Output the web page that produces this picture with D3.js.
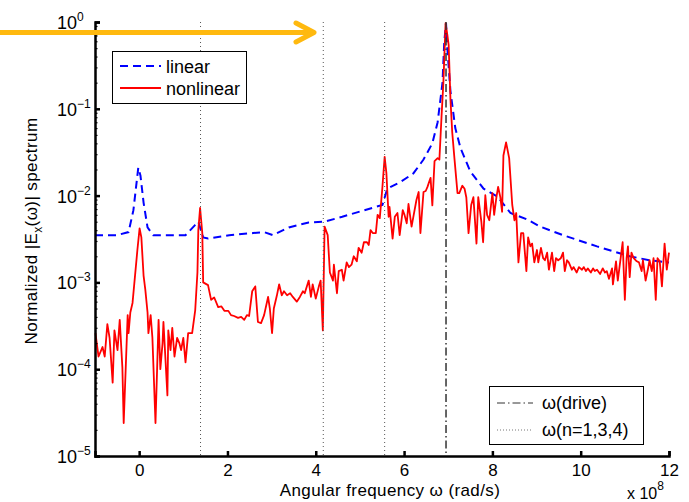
<!DOCTYPE html>
<html>
<head>
<meta charset="utf-8">
<script src="https://cdn.jsdelivr.net/npm/d3@7"></script>
<style>
  body { margin: 0; background: #fff; }
  svg text { font-family: "Liberation Sans", Arial, sans-serif; fill: #000; }
</style>
</head>
<body>
<svg id="chart" width="689" height="502"></svg>
<script>
// angular frequency in units of 1e8 rad/s
const linearW = [-1, -0.5, -0.24, -0.13, -0.02, 0.03, 0.1, 0.19, 0.32, 0.7, 1.05, 1.27, 1.34, 1.45, 1.56, 2.04, 2.58, 2.83, 3.03, 3.39, 3.84, 4.19, 4.6, 5.02, 5.51, 5.62, 5.92, 6.21, 6.44, 6.64, 6.76, 6.87, 6.91, 6.95, 6.98, 7.05, 7.16, 7.28, 7.5, 7.8, 8.11, 8.41, 8.79, 9.08, 9.6, 10.37, 11.11, 11.56, 12];
const linearE = [3.5e-3, 3.5e-3, 3.8e-3, 6.8e-3, 2.1e-2, 1.7e-2, 8.3e-3, 4.3e-3, 3.5e-3, 3.5e-3, 3.5e-3, 4.6e-3, 5.0e-3, 3.3e-3, 3.2e-3, 3.5e-3, 3.7e-3, 3.8e-3, 3.5e-3, 4.3e-3, 4.9e-3, 5.0e-3, 5.7e-3, 6.6e-3, 7.8e-3, 1.2e-2, 1.44e-2, 1.8e-2, 2.6e-2, 4.0e-2, 7.0e-2, 0.2, 0.59, 0.97, 0.5, 0.16, 0.06, 0.035, 0.019, 0.012, 9.8e-3, 6.3e-3, 5.3e-3, 4.4e-3, 3.5e-3, 2.6e-3, 2.0e-3, 1.8e-3, 1.7e-3];

const nonlinW = [-0.99, -0.92, -0.83, -0.78, -0.72, -0.67, -0.60, -0.56, -0.49, -0.44, -0.38, -0.35, -0.26, -0.24, -0.20, -0.15, -0.11, -0.04, 0.01, 0.05, 0.10, 0.14, 0.19, 0.21, 0.26, 0.30, 0.37, 0.44, 0.48, 0.53, 0.55, 0.64, 0.66, 0.71, 0.75, 0.80, 0.86, 0.91, 0.95, 1.00, 1.05, 1.11, 1.20, 1.27, 1.32, 1.34, 1.38, 1.43, 1.45,
  1.56, 1.63, 1.70, 1.79, 1.86, 1.93, 2.02, 2.08, 2.15, 2.24, 2.31, 2.38, 2.44, 2.49, 2.56, 2.63, 2.69, 2.76, 2.83, 2.92, 2.96, 3.01, 3.05, 3.12, 3.17, 3.23, 3.28, 3.35, 3.42, 3.48, 3.57, 3.64, 3.71, 3.75, 3.84, 3.89, 3.93, 4.00, 4.07, 4.11, 4.16, 4.20, 4.27,
  4.32, 4.39, 4.41, 4.48, 4.52, 4.59, 4.63, 4.70, 4.75, 4.81, 4.86, 4.93, 4.97, 5.04, 5.09, 5.16, 5.20, 5.24, 5.29, 5.36, 5.40, 5.45, 5.51, 5.56, 5.60, 5.65, 5.67, 5.74, 5.79, 5.85, 5.90, 5.97, 6.01, 6.06, 6.10, 6.17, 6.21, 6.28, 6.33, 6.37, 6.44, 6.49, 6.53, 6.58, 6.60, 6.64, 6.69, 6.76, 6.80,
  6.85, 6.89, 6.94, 6.98, 7.01, 7.05, 7.09, 7.14, 7.21, 7.25, 7.32, 7.37, 7.41, 7.46, 7.52, 7.57, 7.64, 7.68, 7.75, 7.79, 7.84, 7.88, 7.93, 8.00, 8.04, 8.09, 8.13, 8.18, 8.22, 8.25, 8.31, 8.38, 8.45, 8.50, 8.54, 8.59, 8.65, 8.70, 8.77, 8.81, 8.86,
  8.90, 8.95, 9.01, 9.04, 9.10, 9.15, 9.19, 9.24, 9.28, 9.35, 9.40, 9.44, 9.49, 9.55, 9.60, 9.64, 9.69, 9.73, 9.80, 9.84, 9.91, 9.96, 10.03, 10.07, 10.12, 10.16, 10.23, 10.28, 10.32, 10.37, 10.44, 10.50, 10.55, 10.59, 10.64, 10.71, 10.73, 10.80, 10.84, 10.91, 10.95, 11.00, 11.04, 11.07, 11.11, 11.15, 11.20, 11.27, 11.32, 11.38, 11.41, 11.47, 11.52, 11.56, 11.61, 11.65, 11.70, 11.74, 11.79, 11.84, 11.90, 11.95, 12.00];
const nonlinE = [2.6e-4, 1.4e-4, 1.8e-4, 1.4e-4, 3.3e-4, 2.3e-4, 7e-5, 2.8e-4, 1.66e-4, 3.7e-4, 1.05e-4, 2.4e-5, 4.2e-4, 2.6e-4, 4.5e-4, 5.8e-4, 9.7e-4, 2.36e-3, 4.2e-3, 3.3e-3, 1.2e-3, 8.2e-4, 4.5e-4, 2.6e-4, 4.2e-4, 2.3e-4, 2.4e-5, 3.7e-4, 1e-4, 2e-4, 3.5e-4, 5e-5, 2.8e-4, 1.66e-4, 3e-4, 1.4e-4, 2.3e-4, 2e-4, 1.66e-4, 2.3e-4, 1.2e-4, 2.6e-4, 2.6e-4, 4.8e-4, 1.3e-3, 4e-3, 7.2e-3, 3.7e-3, 1e-3,
  9.3e-4, 6.3e-4, 6.7e-4, 5.2e-4, 5.3e-4, 4.7e-4, 4.7e-4, 4.2e-4, 4.1e-4, 3.9e-4, 4e-4, 3.7e-4, 4.2e-4, 4.1e-4, 7.9e-4, 9e-4, 3.5e-4, 3.4e-4, 4.2e-4, 6.8e-4, 5e-4, 2.6e-4, 5e-4, 7.1e-4, 9.5e-4, 7.1e-4, 7.9e-4, 7.1e-4, 7.5e-4, 6.8e-4, 6e-4, 6.8e-4, 7.9e-4, 7.5e-4, 1.05e-3, 6.8e-4, 9.5e-4, 6.5e-4, 9e-4, 1.05e-3, 2.8e-4, 4.4e-3, 3.5e-3,
  1.3e-3, 1.05e-3, 1.6e-3, 7.5e-4, 1.35e-3, 1.4e-3, 1.05e-3, 1.7e-3, 1.5e-3, 1.6e-3, 2e-3, 1.75e-3, 2.5e-3, 2.2e-3, 2.9e-3, 2.9e-3, 2.7e-3, 4e-3, 3.7e-3, 3.7e-3, 6e-3, 5.5e-3, 1.26e-2, 2.8e-2, 1.8e-2, 5.7e-3, 7.4e-3, 3.2e-3, 5.7e-3, 6.3e-3, 3.5e-3, 6.8e-3, 6e-3, 4.8e-3, 8e-3, 4.4e-3, 5.7e-3, 8.9e-3, 1.1e-2, 3.7e-3, 1.1e-2, 1.13e-2, 1.26e-2, 1.5e-2, 1.6e-2, 7.7e-3, 2.5e-2, 2.7e-2, 2.6e-2,
  8.5e-2, 0.2, 0.97, 0.71, 0.54, 0.13, 0.054, 0.027, 0.0107, 0.0107, 0.013, 0.012, 0.0095, 3.7e-3, 7.8e-3, 9.6e-3, 2.8e-3, 9.6e-3, 5e-3, 2.9e-3, 1.01e-2, 6e-3, 5.2e-3, 1.07e-2, 6e-3, 9.5e-3, 1.26e-2, 9.6e-3, 6.5e-3, 2.9e-2, 4.1e-2, 2.7e-2, 7.8e-3, 5.2e-3, 6.3e-3, 1.7e-3, 3.7e-3, 3.7e-3, 1.35e-3, 3.3e-3, 2.6e-3,
  2.8e-3, 1.7e-3, 2.36e-3, 1.7e-3, 2.5e-3, 1.9e-3, 1.8e-3, 2.2e-3, 1.4e-3, 2.2e-3, 1.35e-3, 1.9e-3, 1.8e-3, 1.9e-3, 2.2e-3, 1.35e-3, 1.8e-3, 1.7e-3, 1.4e-3, 1.5e-3, 1.3e-3, 1.5e-3, 1.4e-3, 1.5e-3, 1.35e-3, 1.45e-3, 1.3e-3, 1.45e-3, 1.35e-3, 1.4e-3, 1.25e-3, 1.45e-3, 1.3e-3, 1.35e-3, 1.1e-3, 1.45e-3, 9.5e-4, 1.75e-3, 1.05e-3, 2e-3, 2.9e-3, 6.3e-4, 1.9e-3, 2.6e-3, 1.15e-3, 2.2e-3, 1.9e-3, 1.75e-3, 1.7e-3, 1.35e-3, 1.8e-3, 1.05e-3, 1.4e-3, 1.8e-3, 1.35e-3, 1.9e-3, 6.3e-4, 1.9e-3, 1.75e-3, 9e-4, 2.8e-3, 1.4e-3, 2.2e-3];

const harmonicW = [1.39, 4.17, 5.56];   // n = 1, 3, 4
const driveW = 6.95;
const xTicks = [0, 2, 4, 6, 8, 10, 12];
const yExps = [-5, -4, -3, -2, -1, 0];
const legendTop = ["linear", "nonlinear"];
const legendBottom = ["\u03c9(drive)", "\u03c9(n=1,3,4)"];

const svg = d3.select("#chart");

const x = d3.scaleLinear().domain([-1, 12]).range([95, 669]);
const y = d3.scaleLog().domain([1e-5, 1]).range([456, 22]);

const line = d3.line().x(d => x(d[0])).y(d => y(d[1]));

// curves
svg.append("path")
  .datum(d3.zip(linearW, linearE))
  .attr("d", line)
  .attr("fill", "none")
  .attr("stroke", "#0000ff")
  .attr("stroke-width", 2)
  .attr("stroke-dasharray", "8,5");

svg.append("path")
  .datum(d3.zip(nonlinW, nonlinE))
  .attr("d", line)
  .attr("fill", "none")
  .attr("stroke", "#ff0000")
  .attr("stroke-width", 1.8)
  .attr("stroke-linejoin", "round");

// marker lines
svg.append("g").selectAll("line")
  .data(harmonicW)
  .enter()
  .append("line")
  .attr("x1", d => x(d)).attr("x2", d => x(d))
  .attr("y1", y(1)).attr("y2", y(1e-5))
  .attr("stroke", "#555")
  .attr("stroke-width", 1)
  .attr("stroke-dasharray", "1,3");

svg.append("line")
  .attr("x1", x(driveW)).attr("x2", x(driveW))
  .attr("y1", y(1)).attr("y2", y(1e-5))
  .attr("stroke", "#333")
  .attr("stroke-width", 1.5)
  .attr("stroke-dasharray", "8,3,1.5,3");

// axes
const xAxis = d3.axisBottom(x).tickValues(xTicks).tickSize(-5).tickPadding(8);
const xG = svg.append("g").attr("transform", `translate(0,${y(1e-5)})`).call(xAxis);
xG.select(".domain").attr("stroke-width", 2.5);
xG.selectAll(".tick line").attr("stroke-width", 2.5);
xG.selectAll("text").attr("font-size", 17).attr("font-family", "Liberation Sans, Arial, sans-serif");

const minor = [];
yExps.slice(0, -1).forEach(e => { for (let k = 2; k <= 9; k++) minor.push(k * Math.pow(10, e)); });

const yMinor = d3.axisLeft(y).tickValues(minor).tickSize(-2.5).tickFormat("");
const yMinorG = svg.append("g").attr("transform", `translate(${x(-1)},0)`).call(yMinor);
yMinorG.select(".domain").remove();
yMinorG.selectAll(".tick line").attr("stroke-width", 1.2);

const yAxis = d3.axisLeft(y).tickValues(yExps.map(e => Math.pow(10, e))).tickSize(-5).tickFormat("");
const yG = svg.append("g").attr("transform", `translate(${x(-1)},0)`).call(yAxis);
yG.select(".domain").attr("stroke-width", 2.5);
yG.selectAll(".tick line").attr("stroke-width", 2.5);

const yLab = svg.append("g").selectAll("text")
  .data(yExps)
  .enter()
  .append("text")
  .attr("x", 57)
  .attr("y", e => y(Math.pow(10, e)) + 7)
  .attr("font-size", 18);
yLab.append("tspan").text("10");
yLab.append("tspan").attr("dy", -8).attr("font-size", 12).text(e => e === 0 ? "0" : "\u2212" + (-e));

// axis titles
svg.append("text")
  .attr("x", 390).attr("y", 496)
  .attr("text-anchor", "middle")
  .attr("font-size", 17)
  .attr("letter-spacing", 0.4)
  .text("Angular frequency \u03c9 (rad/s)");

const mult = svg.append("text").attr("x", 627).attr("y", 498.5).attr("font-size", 16);
mult.append("tspan").text("x 10");
mult.append("tspan").attr("dy", -9).attr("font-size", 12).text("8");

const yTitle = svg.append("text")
  .attr("transform", "translate(37,231) rotate(-90)")
  .attr("text-anchor", "middle")
  .attr("font-size", 17)
  .attr("letter-spacing", 0.4);
yTitle.append("tspan").text("Normalized |E");
yTitle.append("tspan").attr("dy", 5).attr("font-size", 12).text("x");
yTitle.append("tspan").attr("dy", -5).text("(\u03c9)| spectrum");

// legend: curves
const leg1 = svg.append("g");
leg1.append("rect").attr("x", 112.5).attr("y", 51.5).attr("width", 134).attr("height", 52)
  .attr("fill", "#fff").attr("stroke", "#000").attr("stroke-width", 1);
const leg1Styles = [
  { stroke: "#0000ff", dash: "8,5", w: 2 },
  { stroke: "#ff0000", dash: null, w: 2 }
];
legendTop.forEach((name, i) => {
  const cy = 66 + i * 22;
  leg1.append("line").attr("x1", 120).attr("x2", 161).attr("y1", cy).attr("y2", cy)
    .attr("stroke", leg1Styles[i].stroke).attr("stroke-width", leg1Styles[i].w)
    .attr("stroke-dasharray", leg1Styles[i].dash);
  leg1.append("text").attr("x", 166).attr("y", cy + 7).attr("font-size", 18).text(name);
});

// legend: marker lines
const leg2 = svg.append("g");
leg2.append("rect").attr("x", 489.5).attr("y", 386.5).attr("width", 154).attr("height", 58)
  .attr("fill", "#fff").attr("stroke", "#000").attr("stroke-width", 1);
const leg2Styles = [
  { stroke: "#333", dash: "8,3,1.5,3", w: 1 },
  { stroke: "#777", dash: "1,2", w: 1 }
];
legendBottom.forEach((name, i) => {
  const cy = 403 + i * 27;
  leg2.append("line").attr("x1", 497).attr("x2", 533).attr("y1", cy).attr("y2", cy)
    .attr("stroke", leg2Styles[i].stroke).attr("stroke-width", leg2Styles[i].w)
    .attr("stroke-dasharray", leg2Styles[i].dash);
  leg2.append("text").attr("x", 542).attr("y", cy + 6).attr("font-size", 18).text(name);
});

// orange arrow pointing along the top
const arrow = svg.append("g").attr("stroke", "#ffb90f").attr("stroke-width", 5)
  .attr("stroke-linecap", "round").attr("fill", "none");
arrow.append("line").attr("x1", 0).attr("x2", 313).attr("y1", 32.5).attr("y2", 32.5);
arrow.append("polyline").attr("points", "296,23 314,32.5 296,42").attr("stroke-linejoin", "round");
</script>
</body>
</html>
